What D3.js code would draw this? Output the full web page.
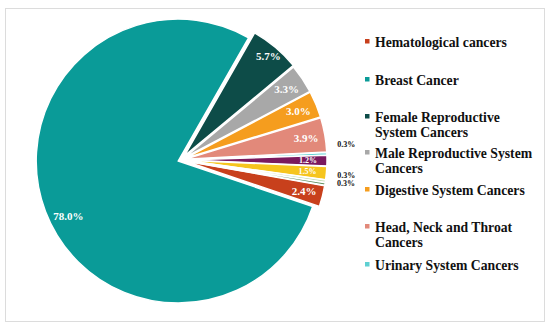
<!DOCTYPE html>
<html><head><meta charset="utf-8">
<script src="https://cdn.jsdelivr.net/npm/d3@7"></script>
<style>body{margin:0;background:#fff}svg{display:block}text{font-family:"Liberation Serif","Times New Roman",serif;font-weight:bold}</style>
</head><body>
<svg id="c" width="550" height="327"></svg>
<script>
const categories = ["Hematological cancers","Breast Cancer","Female Reproductive System Cancers","Male Reproductive System Cancers","Digestive System Cancers","Head, Neck and Throat Cancers","Urinary System Cancers","Other 1","Other 2","Other 3","Other 4"];
const values = [2.4,78.0,5.7,3.3,3.0,3.9,0.3,1.2,1.5,0.3,0.3];
const legendLines = [["Hematological cancers"],["Breast Cancer"],["Female Reproductive","System Cancers"],["Male Reproductive System","Cancers"],["Digestive System Cancers"],["Head, Neck and Throat","Cancers"],["Urinary System Cancers"]];
const colors = ["#C8401C","#0A9B98","#0D4C48","#A8A8A8","#F59D1E","#E2897A","#5ED0D2","#7A1A5E","#F6C51E","#C3DDB0","#5E8E5C"];

const svg = d3.select("#c");
svg.append("rect").attr("x",5.5).attr("y",8.5).attr("width",539).attr("height",313).attr("fill","none").attr("stroke","#DCDCDC");

const cx = 181, cy = 160, R = 142;
const start = 100 * Math.PI/180;
const pie = d3.pie().sort(null).value(d=>d).startAngle(start).endAngle(start+2*Math.PI);
const arcs = pie(values);
const arc = d3.arc().innerRadius(0).outerRadius(R);
const explode = i => i===1 ? 3 : (i===2 ? 5 : 4);
const g = svg.append("g").attr("transform",`translate(${cx},${cy})`);
function off(d,i){const a=(d.startAngle+d.endAngle)/2, e=explode(i);return [Math.sin(a)*e,-Math.cos(a)*e];}
g.selectAll("path").data(arcs).join("path")
 .attr("d",arc)
 .attr("transform",(d,i)=>{const o=off(d,i);return `translate(${o[0]},${o[1]})`;})
 .attr("fill",(d,i)=>colors[i]).attr("stroke","#fff").attr("stroke-width",1.5).attr("stroke-linejoin","round");

const fmt = v => v.toFixed(1)+"%";
const labelR = i => i===1 ? 123 : (i===2 ? 131 : 123);
const deg = Math.PI/180;
let smallCount = 0;
arcs.forEach((d,i)=>{
  const o = off(d,i);
  const v = values[i];
  if (v >= 1) {
    const s = i===1 ? -6*deg : 0;
    const dd = {startAngle:d.startAngle+s, endAngle:d.endAngle+s};
    const p = d3.arc().innerRadius(labelR(i)).outerRadius(labelR(i)).centroid(dd);
    g.append("text").attr("x",p[0]+o[0]).attr("y",p[1]+o[1]).attr("dy","0.35em")
     .attr("text-anchor","middle").attr("fill","#fff").attr("font-size", v<2 ? 8 : 11).text(fmt(v));
  } else {
    const dd = {startAngle:d.startAngle-3*deg, endAngle:d.endAngle-3*deg};
    const p = d3.arc().innerRadius(166).outerRadius(166).centroid(dd);
    const nudge = smallCount===2 ? 5 : 0; smallCount++;
    g.append("text").attr("x",p[0]).attr("y",p[1]+nudge).attr("dy","0.35em")
     .attr("text-anchor","middle").attr("fill","#111").attr("font-size",8).text(fmt(v));
  }
});

const ly = [42,80,117,153,190,227,265];
const lg = svg.append("g");
legendLines.forEach((lines,i)=>{
  lg.append("rect").attr("x",365).attr("y",ly[i]-3).attr("width",4.5).attr("height",4.5).attr("fill",colors[i]);
  lines.forEach((t,j)=>{
    lg.append("text").attr("x",375).attr("y",ly[i]+j*15.5).attr("dy","0.35em").attr("font-size",13.7).attr("fill","#111").text(t);
  });
});
</script>
</body></html>
